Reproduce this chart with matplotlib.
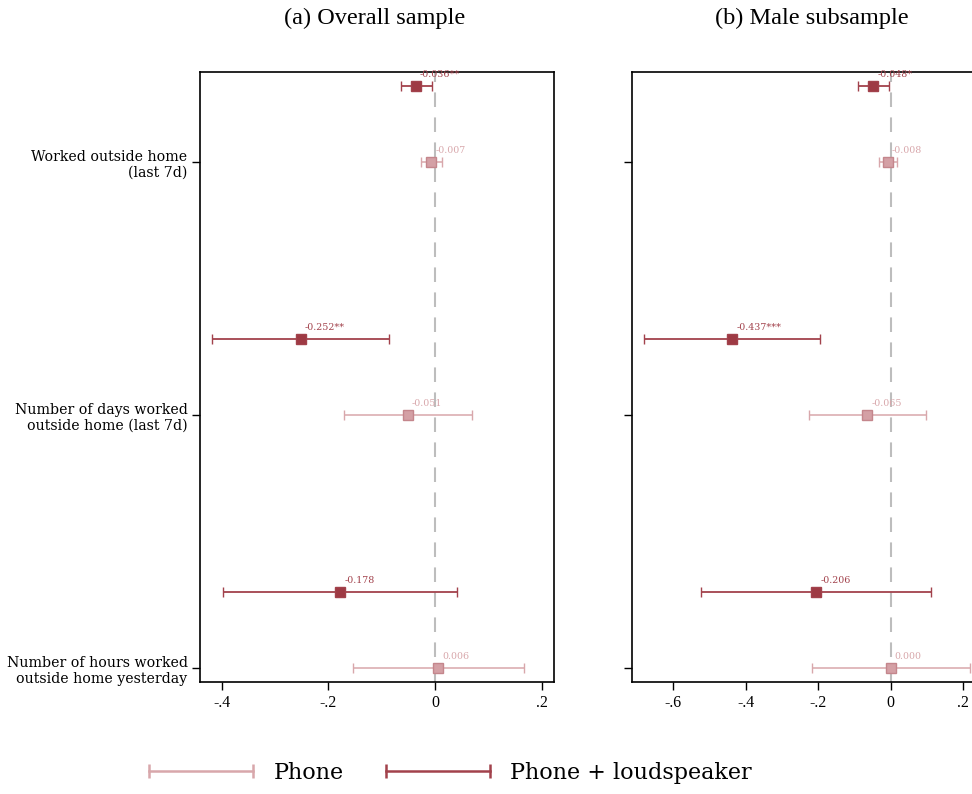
import matplotlib
matplotlib.use("Agg")
import matplotlib.pyplot as plt
from matplotlib.lines import Line2D
from matplotlib.transforms import offset_copy

plt.rcParams["font.family"] = ["Liberation Serif", "DejaVu Serif"]
WIDE = ["DejaVu Serif"]

outcomes = ["Worked outside home\n(last 7d)",
            "Number of days worked\noutside home (last 7d)",
            "Number of hours worked\noutside home yesterday"]

# (a) overall sample
a_phone = [-0.007, -0.051, 0.006]
a_phone_lo = [-0.027, -0.171, -0.154]
a_phone_hi = [0.013, 0.069, 0.167]
a_phone_lab = ["-0.007", "-0.051", "0.006"]
a_ls = [-0.036, -0.252, -0.178]
a_ls_lo = [-0.064, -0.418, -0.397]
a_ls_hi = [-0.006, -0.086, 0.041]
a_ls_lab = ["-0.036**", "-0.252**", "-0.178"]

# (b) male subsample
b_phone = [-0.008, -0.065, 0.000]
b_phone_lo = [-0.032, -0.225, -0.218]
b_phone_hi = [0.018, 0.097, 0.219]
b_phone_lab = ["-0.008", "-0.065", "0.000"]
b_ls = [-0.048, -0.437, -0.206]
b_ls_lo = [-0.089, -0.681, -0.523]
b_ls_hi = [-0.005, -0.195, 0.111]
b_ls_lab = ["-0.048*", "-0.437***", "-0.206"]

LIGHT = "#d8a7ab"
LIGHT_FACE = "#d4a0a5"
LIGHT_EDGE = "#c4868c"
DARK = "#a2424c"
DARK_FACE = "#9e3a44"

fig = plt.figure(figsize=(9.72, 7.94), dpi=100)
ax_a = fig.add_axes([0.2058, 0.141, 0.3642, 0.768])
ax_b = fig.add_axes([0.6502, 0.141, 0.3642, 0.768])


def draw(ax, est, lo, hi, labs, y_off, color, face, edge, lw, ms):
    ys = [i + 1 - y_off for i in range(len(est))]
    xerr = [[e - l for e, l in zip(est, lo)], [h - e for e, h in zip(est, hi)]]
    ax.errorbar(est, ys, xerr=xerr, fmt="s", color=color, ecolor=color,
                elinewidth=lw, capsize=3.3, capthick=lw, markersize=ms,
                markerfacecolor=face, markeredgecolor=edge, markeredgewidth=1.0,
                zorder=3)
    tr = offset_copy(ax.transData, fig=fig, x=3, y=5, units="points")
    for x, y, s in zip(est, ys, labs):
        ax.text(x, y, s, transform=tr, color=color, fontsize=6.8, family=WIDE,
                ha="left", va="bottom", zorder=4)


for ax, ph, ph_lo, ph_hi, ph_lab, ls, ls_lo, ls_hi, ls_lab in [
        (ax_a, a_phone, a_phone_lo, a_phone_hi, a_phone_lab, a_ls, a_ls_lo, a_ls_hi, a_ls_lab),
        (ax_b, b_phone, b_phone_lo, b_phone_hi, b_phone_lab, b_ls, b_ls_lo, b_ls_hi, b_ls_lab)]:
    ax.axvline(0, color="#bdbdbd", lw=1.5, ls=(0, (7, 5)), zorder=1)
    draw(ax, ph, ph_lo, ph_hi, ph_lab, 0.0, LIGHT, LIGHT_FACE, LIGHT_EDGE, 1.1, 6.5)
    draw(ax, ls, ls_lo, ls_hi, ls_lab, 0.30, DARK, DARK_FACE, DARK, 1.3, 7.0)
    ax.set_ylim(3.055, 0.644)
    ax.set_yticks([1, 2, 3])
    ax.tick_params(direction="out", length=6, width=1, labelsize=11.5, pad=3)
    for sp in ax.spines.values():
        sp.set_linewidth(1.2)

ax_a.set_yticklabels(outcomes, fontsize=10.2, family=WIDE, ha="right",
                     multialignment="right", linespacing=1.2)
ax_b.set_yticklabels([])

ax_a.set_xlim(-0.441, 0.2235)
ax_a.set_xticks([-0.4, -0.2, 0, 0.2])
ax_a.set_xticklabels(["-.4", "-.2", "0", ".2"])
ax_b.set_xlim(-0.714, 0.263)
ax_b.set_xticks([-0.6, -0.4, -0.2, 0, 0.2])
ax_b.set_xticklabels(["-.6", "-.4", "-.2", "0", ".2"])

fig.text(0.3855, 0.977, "(a) Overall sample", fontsize=17.5, ha="center", va="center")
fig.text(0.8355, 0.977, "(b) Male subsample", fontsize=17.5, ha="center", va="center")

handles = [Line2D([], [], color=LIGHT, lw=1.8, marker="|", markersize=10, markeredgewidth=1.8),
           Line2D([], [], color=DARK, lw=1.8, marker="|", markersize=10, markeredgewidth=1.8)]
fig.legend(handles, ["Phone", "Phone + loudspeaker"], loc="center",
           bbox_to_anchor=(0.46, 0.0265), ncol=2, frameon=False,
           prop={"family": WIDE, "size": 16},
           numpoints=2, handlelength=5.3, handletextpad=0.6, columnspacing=1.6)

fig.savefig("out.png", dpi=100)
